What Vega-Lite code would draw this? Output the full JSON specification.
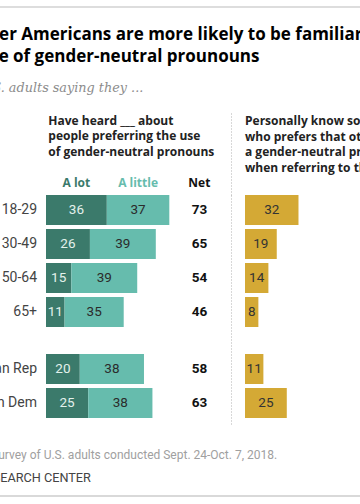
{
  "$schema": "https://vega.github.io/schema/vega-lite/v6.json",
  "autosize": {"type": "none"},
  "padding": {"left": 0, "top": 7, "right": 360, "bottom": 520},
  "background": "#ffffff",
  "bounds": "full",
  "spacing": 0,
  "config": {
    "view": {"stroke": null},
    "font": "Roboto",
    "concat": {"spacing": 0}
  },
  "datasets": {
    "heard": [
      {"group": "18-29", "section": "Age", "response": "A lot", "pct": 36},
      {"group": "18-29", "section": "Age", "response": "A little", "pct": 37},
      {"group": "30-49", "section": "Age", "response": "A lot", "pct": 26},
      {"group": "30-49", "section": "Age", "response": "A little", "pct": 39},
      {"group": "50-64", "section": "Age", "response": "A lot", "pct": 15},
      {"group": "50-64", "section": "Age", "response": "A little", "pct": 39},
      {"group": "65+", "section": "Age", "response": "A lot", "pct": 11},
      {"group": "65+", "section": "Age", "response": "A little", "pct": 35},
      {"group": "Rep/Lean Rep", "section": "Party", "response": "A lot", "pct": 20},
      {"group": "Rep/Lean Rep", "section": "Party", "response": "A little", "pct": 38},
      {"group": "Dem/Lean Dem", "section": "Party", "response": "A lot", "pct": 25},
      {"group": "Dem/Lean Dem", "section": "Party", "response": "A little", "pct": 38}
    ],
    "summary": [
      {"group": "18-29", "section": "Age", "net": 73, "know": 32},
      {"group": "30-49", "section": "Age", "net": 65, "know": 19},
      {"group": "50-64", "section": "Age", "net": 54, "know": 14},
      {"group": "65+", "section": "Age", "net": 46, "know": 8},
      {"group": "Rep/Lean Rep", "section": "Party", "net": 58, "know": 11},
      {"group": "Dem/Lean Dem", "section": "Party", "net": 63, "know": 25}
    ]
  },
  "vconcat": [
    {
      "width": 360,
      "height": 104,
      "data": {"values": [{"line": "top"}]},
      "mark": {"type": "rule", "color": "#dddddd", "strokeWidth": 2},
      "encoding": {"y": {"datum": 1, "type": "quantitative", "scale": {"domain": [0, 1]}, "axis": null}},
      "title": {
        "text": ["Younger Americans are more likely to be familiar with", "the use of gender-neutral prounouns"],
        "subtitle": "% of U.S. adults saying they ...",
        "orient": "top", "anchor": "start", "frame": "group",
        "offset": -90, "dx": -54,
        "font": "Open Sans", "fontSize": 17, "fontWeight": "bold", "color": "#000000", "lineHeight": 22.3,
        "subtitleFont": "DejaVu Serif", "subtitleFontSize": 12.8, "subtitleFontStyle": "italic",
        "subtitleColor": "#8c8c8c", "subtitlePadding": 16
      }
    },
    {
      "bounds": "flush",
      "spacing": 0,
      "hconcat": [
        {
          "width": 46,
          "height": 84,
          "data": {"values": []},
          "mark": "point"
        },
        {
          "width": 199,
          "height": 84,
          "title": {
            "text": ["Have heard ___ about", "people preferring the use", "of gender-neutral pronouns"],
            "orient": "top", "anchor": "start", "frame": "group",
            "offset": -48, "dx": 2.3,
            "font": "Open Sans", "fontSize": 12, "fontWeight": "bold", "color": "#222222", "lineHeight": 15.7
          },
          "layer": [
            {
              "data": {"name": "heard"},
              "transform": [{"filter": "datum.group == '18-29'"}],
              "mark": {"type": "text", "baseline": "alphabetic", "dy": -7.7, "font": "Open Sans", "fontSize": 12, "fontWeight": "bold"},
              "encoding": {
                "y": {"value": "height"},
                "x": {"field": "pct", "type": "quantitative", "stack": "zero", "bandPosition": 0.5, "scale": {"domain": [0, 117.8], "nice": false, "zero": true}, "axis": null},
                "detail": {"field": "response"},
                "order": {"field": "response", "sort": "descending"},
                "text": {"field": "response"},
                "color": {"field": "response", "type": "nominal", "scale": {"domain": ["A lot", "A little"], "range": ["#3b7a6b", "#66bcad"]}, "legend": null}
              }
            },
            {
              "data": {"values": [{"column": "Net"}]},
              "mark": {"type": "text", "baseline": "alphabetic", "dy": -7.7, "font": "Open Sans", "fontSize": 12, "fontWeight": "bold", "color": "#111111"},
              "encoding": {
                "y": {"value": "height"},
                "x": {"datum": 90.8, "type": "quantitative"},
                "text": {"field": "column"}
              }
            }
          ]
        },
        {
          "width": 117,
          "height": 84,
          "title": {
            "text": ["Personally know someone", "who prefers that others use", "a gender-neutral pronoun", "when referring to them"],
            "orient": "top", "anchor": "start", "frame": "group",
            "offset": -64, "dx": 0,
            "font": "Open Sans", "fontSize": 12, "fontWeight": "bold", "color": "#222222", "lineHeight": 15.7
          },
          "data": {"values": [{"edge": 0}]},
          "mark": {"type": "rule", "opacity": 0},
          "encoding": {
            "y": {"field": "edge", "type": "quantitative", "scale": {"domain": [0, 1]},
              "axis": {"orient": "left", "offset": 14, "domain": true, "domainDash": [1, 2], "domainColor": "#b0b0b0", "domainWidth": 1, "labels": false, "ticks": false, "grid": false, "title": null}}
          }
        }
      ]
    },
    {
      "bounds": "flush",
      "spacing": 0,
      "hconcat": [
        {
          "width": 46,
          "height": 159,
          "data": {"name": "summary"},
          "transform": [{"filter": "datum.section == 'Age'"}],
          "mark": {"type": "text", "align": "right", "baseline": "middle", "dx": -9, "fontSize": 14, "color": "#444444"},
          "encoding": {
            "y": {"field": "group", "type": "nominal", "scale": {"type": "band", "domain": ["18-29", "30-49", "50-64", "65+"], "paddingInner": 0.1176, "paddingOuter": 0.397, "align": 0}, "axis": null},
            "x": {"value": "width"},
            "text": {"field": "group"}
          }
        },
        {
          "width": 199,
          "height": 159,
          "layer": [
            {
              "data": {"name": "heard"},
              "transform": [{"filter": "datum.section == 'Age'"}],
              "mark": {"type": "bar"},
              "encoding": {
                "y": {"field": "group", "type": "nominal", "scale": {"type": "band", "domain": ["18-29", "30-49", "50-64", "65+"], "paddingInner": 0.1176, "paddingOuter": 0.397, "align": 0}, "axis": null},
                "x": {"field": "pct", "type": "quantitative", "stack": "zero", "scale": {"domain": [0, 117.8], "nice": false, "zero": true}, "axis": null},
                "color": {"field": "response", "type": "nominal", "scale": {"domain": ["A lot", "A little"], "range": ["#3b7a6b", "#66bcad"]}, "legend": null},
                "order": {"field": "response", "sort": "descending"}
              }
            },
            {
              "data": {"name": "heard"},
              "transform": [{"filter": "datum.section == 'Age'"}],
              "mark": {"type": "text", "baseline": "middle", "fontSize": 13.5},
              "encoding": {
                "y": {"field": "group", "type": "nominal"},
                "x": {"field": "pct", "type": "quantitative", "stack": "zero", "bandPosition": 0.5},
                "detail": {"field": "response"},
                "order": {"field": "response", "sort": "descending"},
                "text": {"field": "pct"},
                "color": {"condition": {"test": "datum.response == 'A lot'", "value": "#e3f1ec"}, "value": "#2b2b2b"}
              }
            },
            {
              "data": {"name": "summary"},
              "transform": [{"filter": "datum.section == 'Age'"}],
              "mark": {"type": "text", "baseline": "middle", "fontSize": 13.5, "fontWeight": "bold", "color": "#111111"},
              "encoding": {
                "y": {"field": "group", "type": "nominal"},
                "x": {"datum": 90.8, "type": "quantitative"},
                "text": {"field": "net"}
              }
            }
          ]
        },
        {
          "width": 117,
          "height": 159,
          "data": {"name": "summary"},
          "transform": [{"filter": "datum.section == 'Age'"}],
          "encoding": {
            "y": {"field": "group", "type": "nominal", "scale": {"type": "band", "domain": ["18-29", "30-49", "50-64", "65+"], "paddingInner": 0.1176, "paddingOuter": 0.397, "align": 0},
              "axis": {"orient": "left", "offset": 14, "domain": true, "domainDash": [1, 2], "domainColor": "#b0b0b0", "domainWidth": 1, "labels": false, "ticks": false, "grid": false, "title": null}}
          },
          "layer": [
            {
              "mark": {"type": "bar", "color": "#d4a935"},
              "encoding": {"x": {"field": "know", "type": "quantitative", "scale": {"domain": [0, 70], "nice": false}, "axis": null}}
            },
            {
              "mark": {"type": "text", "baseline": "middle", "fontSize": 13.5, "color": "#333333"},
              "encoding": {
                "x": {"field": "know", "type": "quantitative", "stack": "zero", "bandPosition": 0.5},
                "detail": {"field": "group"},
                "text": {"field": "know"}
              }
            }
          ]
        }
      ]
    },
    {
      "bounds": "flush",
      "spacing": 0,
      "hconcat": [
        {
          "width": 46,
          "height": 71,
          "data": {"name": "summary"},
          "transform": [{"filter": "datum.section == 'Party'"}],
          "mark": {"type": "text", "align": "right", "baseline": "middle", "dx": -9, "fontSize": 14, "color": "#444444"},
          "encoding": {
            "y": {"field": "group", "type": "nominal", "scale": {"type": "band", "domain": ["Rep/Lean Rep", "Dem/Lean Dem"], "paddingInner": 0.1176, "paddingOuter": 0.103, "align": 0}, "axis": null},
            "x": {"value": "width"},
            "text": {"field": "group"}
          }
        },
        {
          "width": 199,
          "height": 71,
          "layer": [
            {
              "data": {"name": "heard"},
              "transform": [{"filter": "datum.section == 'Party'"}],
              "mark": {"type": "bar"},
              "encoding": {
                "y": {"field": "group", "type": "nominal", "scale": {"type": "band", "domain": ["Rep/Lean Rep", "Dem/Lean Dem"], "paddingInner": 0.1176, "paddingOuter": 0.103, "align": 0}, "axis": null},
                "x": {"field": "pct", "type": "quantitative", "stack": "zero", "scale": {"domain": [0, 117.8], "nice": false, "zero": true}, "axis": null},
                "color": {"field": "response", "type": "nominal", "scale": {"domain": ["A lot", "A little"], "range": ["#3b7a6b", "#66bcad"]}, "legend": null},
                "order": {"field": "response", "sort": "descending"}
              }
            },
            {
              "data": {"name": "heard"},
              "transform": [{"filter": "datum.section == 'Party'"}],
              "mark": {"type": "text", "baseline": "middle", "fontSize": 13.5},
              "encoding": {
                "y": {"field": "group", "type": "nominal"},
                "x": {"field": "pct", "type": "quantitative", "stack": "zero", "bandPosition": 0.5},
                "detail": {"field": "response"},
                "order": {"field": "response", "sort": "descending"},
                "text": {"field": "pct"},
                "color": {"condition": {"test": "datum.response == 'A lot'", "value": "#e3f1ec"}, "value": "#2b2b2b"}
              }
            },
            {
              "data": {"name": "summary"},
              "transform": [{"filter": "datum.section == 'Party'"}],
              "mark": {"type": "text", "baseline": "middle", "fontSize": 13.5, "fontWeight": "bold", "color": "#111111"},
              "encoding": {
                "y": {"field": "group", "type": "nominal"},
                "x": {"datum": 90.8, "type": "quantitative"},
                "text": {"field": "net"}
              }
            }
          ]
        },
        {
          "width": 117,
          "height": 71,
          "data": {"name": "summary"},
          "transform": [{"filter": "datum.section == 'Party'"}],
          "encoding": {
            "y": {"field": "group", "type": "nominal", "scale": {"type": "band", "domain": ["Rep/Lean Rep", "Dem/Lean Dem"], "paddingInner": 0.1176, "paddingOuter": 0.103, "align": 0},
              "axis": {"orient": "left", "offset": 14, "domain": true, "domainDash": [1, 2], "domainColor": "#b0b0b0", "domainWidth": 1, "labels": false, "ticks": false, "grid": false, "title": null}}
          },
          "layer": [
            {
              "mark": {"type": "bar", "color": "#d4a935"},
              "encoding": {"x": {"field": "know", "type": "quantitative", "scale": {"domain": [0, 70], "nice": false}, "axis": null}}
            },
            {
              "mark": {"type": "text", "baseline": "middle", "fontSize": 13.5, "color": "#333333"},
              "encoding": {
                "x": {"field": "know", "type": "quantitative", "stack": "zero", "bandPosition": 0.5},
                "detail": {"field": "group"},
                "text": {"field": "know"}
              }
            }
          ]
        }
      ]
    },
    {
      "width": 360,
      "height": 70,
      "data": {"values": []},
      "mark": "point",
      "title": {
        "text": "Source: Survey of U.S. adults conducted Sept. 24-Oct. 7, 2018.",
        "subtitle": "PEW RESEARCH CENTER",
        "orient": "top", "anchor": "start", "frame": "group",
        "offset": -60.5, "dx": -52,
        "font": "Roboto", "fontSize": 12, "fontWeight": "normal", "color": "#a0a0a0",
        "subtitleFont": "Roboto", "subtitleFontSize": 12.7, "subtitleColor": "#444444", "subtitlePadding": 10
      }
    },
    {
      "width": 360,
      "height": 1,
      "data": {"values": [{"line": "bottom"}]},
      "mark": {"type": "rule", "color": "#d9d9d9", "strokeWidth": 2},
      "encoding": {"y": {"datum": 1, "type": "quantitative", "scale": {"domain": [0, 1]}, "axis": null}}
    }
  ]
}
